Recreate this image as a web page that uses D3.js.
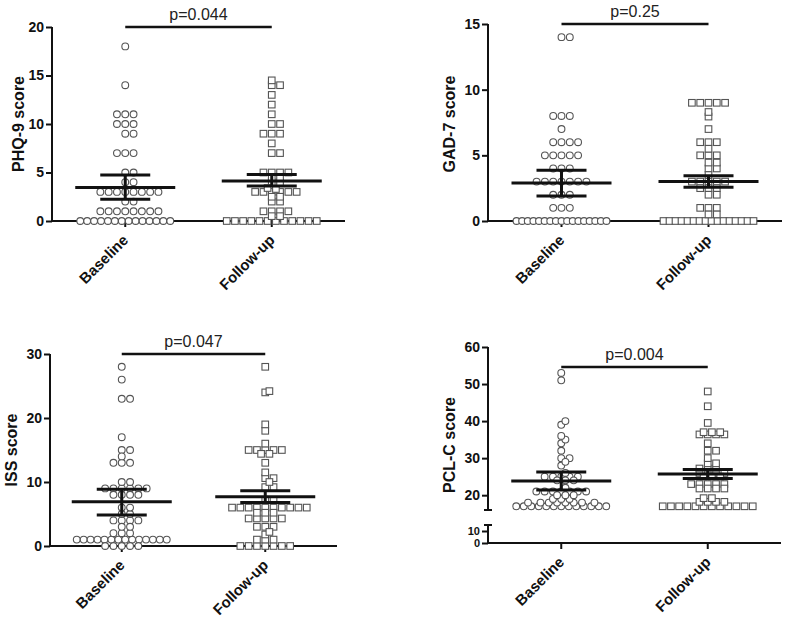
<!DOCTYPE html>
<html><head><meta charset="utf-8">
<script src="https://cdn.jsdelivr.net/npm/d3@7"></script>
<style>body{margin:0;background:#fff}svg{display:block}</style>
</head><body><svg id="c" width="789" height="618"></svg>
<script>
// ---------- DATA ----------
const categories = ["Baseline", "Follow-up"];

const phqBaseline = [18, 14, 11,11,11, 10,10,10, 9,9, 7,7,7, 5,5, 4,4, 3,3,3,3,3,3,3,3, 2,2,
  1,1,1,1,1,1,1,1, 0,0,0,0,0,0,0,0,0,0,0,0,0,0];
const phqFollowup = [14.5, 14,14, 13, 12, 11, 10,10, 9,9,9, 8, 7,7, 5,5,5,5, 4.5,4.5, 4,4, 3.4, 3.3,
  3,3,3,3,3,3, 2.5,2.5, 2,2, 1,1,1,1, 0.5,0.5, 0,0,0,0,0,0,0,0,0,0,0,0];
const phqMean = [3.45, 4.13], phqLow = [2.25, 3.6], phqHigh = [4.75, 4.8];
const phqTicks = [0, 5, 10, 15, 20];

const gadBaseline = [14,14, 8,8,8, 7, 6,6,6,6, 5,5,5,5,5, 4,4,4, 3,3,3,3,3,3,3, 2,2,2, 1,1,1,
  0,0,0,0,0,0,0,0,0,0,0,0,0,0,0,0,0];
const gadFollowup = [9,9,9,9,9, 8.3, 7.95, 7, 6,6,6, 5.5, 5,5,5, 4.45,4.45, 4,4, 3.5, 3,3,3,3,3,
  2.5,2.5,2.5, 2,2, 1,1,1, 0.5,0.5, 0,0,0,0,0,0,0,0,0,0,0,0,0,0,0,0];
const gadMean = [2.9, 3.0], gadLow = [1.9, 2.57], gadHigh = [3.86, 3.45];
const gadTicks = [0, 5, 10, 15];

const issBaseline = [28, 26, 23,23, 17, 15,15, 14, 13,13,13, 10,10, 9,9,9,9,9,9, 8,8,8,8, 6,6, 5,5,
  4,4,4,4, 3,3, 2,2,2, 1,1,1,1,1,1,1,1,1,1,1,1,1,1, 0,0,0,0,0];
const issFollowup = [28, 24.2, 24, 19, 18, 16, 15,15,15,15,15, 14.4,14.4, 13, 11.5, 10.6,10.6, 10,
  9.2,9.2, 7.2,7.2, 6,6,6,6,6,6,6,6,6,6, 5.2,5.2,5.2, 4.3,4.3,4.3,4.3,4.3, 3,3,3, 2.2, 1.8, 1,1,1,
  0,0,0,0,0,0,0];
const issMean = [6.9, 7.7], issLow = [4.84, 6.8], issHigh = [8.86, 8.65];
const issTicks = [0, 10, 20, 30];

const pclBaseline = [53, 51, 40, 39, 36, 35, 34, 32, 30,30, 29, 28, 26, 25,25,25,25,25, 24,24,24, 22,
  21,21,21,21,21,21,21, 20,20,20, 19,19,19, 18,18,18,18,18,18,18,18,
  17,17,17,17,17,17,17,17,17,17,17,17,17];
const pclFollowup = [48, 44, 39.5, 37,37,37, 36.4,36.4,36.4,36.4, 34, 32,32, 30, 28.6,28.6,
  27.2,27.2,27.2, 26,26,26,26, 25,25,25, 23,23,23,23,23, 21.8,21.8,21.8,21.8, 19.2,19.2,
  18.2,18.2,18.2,18.2, 17,17,17,17,17,17,17,17,17,17,17,17];
const pclMean = [23.85, 25.7], pclLow = [21.4, 24.5], pclHigh = [26.25, 26.9];
const pclTicksUpper = [20, 30, 40, 50, 60];
const pclTicksLower = [0, 10];

const pLabels = ["p=0.044", "p=0.25", "p=0.047", "p=0.004"];
const pLevels = [20, 15, 30, 54.6];

// ---------- DRAWING ----------
const svg = d3.select("#c");
const FONT = "'Liberation Sans', Arial, Helvetica, sans-serif";

function swarm(values, y, cx) {
  const d = 8.3, maxHalf = 45, thrSame = 7, thrOther = 4.0;
  const groups = d3.groups(values, v => v).sort((a, b) => b[1].length - a[1].length || a[0] - b[0]);
  const placed = [];
  for (const [v, arr] of groups) {
    const n = arr.length, py = y(v);
    if ((n - 1) * d > 2 * maxHalf) {
      const sp = 2 * maxHalf / (n - 1);
      for (let i = 0; i < n; i++) placed.push({ x: cx - maxHalf + i * sp, y: py });
      continue;
    }
    const cands = [];
    for (let k = -14; k <= 14; k++) {
      const off = k * d / 2;
      const match = (n % 2 === 1) ? (k % 2 === 0) : (Math.abs(k) % 2 === 1);
      cands.push({ off, key: Math.abs(off) + (match ? 0 : 0.01) + (off < 0 ? 0.001 : 0) });
    }
    cands.sort((a, b) => a.key - b.key);
    const chosen = [];
    for (const c of cands) {
      if (chosen.length === n) break;
      const x = cx + c.off;
      const hitOther = placed.some(p => Math.hypot(p.x - x, p.y - py) < thrOther);
      const hitSame = chosen.some(p => Math.abs(p.x - x) < thrSame);
      if (!hitOther && !hitSame) chosen.push({ x, y: py });
    }
    let i = 0;
    while (chosen.length < n) { chosen.push({ x: cx + cands[i].off, y: py }); i++; }
    placed.push(...chosen);
  }
  return placed;
}

function panel(cfg) {
  const g = svg.append("g");
  const x = d3.scalePoint().domain(categories).range([cfg.left, cfg.right]).padding(0.5);
  const y = cfg.y;
  const bottom = cfg.axisY;

  // axis title
  g.append("text").attr("transform", `translate(${cfg.titleX},${cfg.titleY}) rotate(-90)`)
    .attr("text-anchor", "middle").attr("dominant-baseline", "central")
    .style("font", `bold 16px ${FONT}`).attr("fill", "#111").text(cfg.title);

  // y axis segments
  cfg.segments.forEach(seg => {
    const ax = d3.axisLeft(seg.scale).tickValues(seg.ticks).tickSize(6).tickPadding(2).tickSizeOuter(0);
    const ag = g.append("g").attr("transform", `translate(${cfg.left},0)`).call(ax);
    ag.select(".domain").remove();
    ag.selectAll(".tick line").attr("stroke", "#111").attr("stroke-width", 2);
    ag.selectAll(".tick text").style("font", `bold ${seg.fontSize || 14}px ${FONT}`).attr("fill", "#111");
    g.append("line").attr("x1", cfg.left).attr("x2", cfg.left)
      .attr("y1", seg.scale(seg.domainTop)).attr("y2", seg.scale(seg.domainBottom))
      .attr("stroke", "#111").attr("stroke-width", 2);
    if (seg.capBottom) g.append("line").attr("x1", cfg.left - 4).attr("x2", cfg.left + 4)
      .attr("y1", seg.scale(seg.domainBottom)).attr("y2", seg.scale(seg.domainBottom))
      .attr("stroke", "#111").attr("stroke-width", 2);
    if (seg.capTop) g.append("line").attr("x1", cfg.left - 4).attr("x2", cfg.left + 4)
      .attr("y1", seg.scale(seg.domainTop)).attr("y2", seg.scale(seg.domainTop))
      .attr("stroke", "#111").attr("stroke-width", 2);
  });

  // x axis
  g.append("line").attr("x1", cfg.left - 1).attr("x2", cfg.right).attr("y1", bottom).attr("y2", bottom)
    .attr("stroke", "#111").attr("stroke-width", 2);
  categories.forEach(c => {
    g.append("line").attr("x1", x(c)).attr("x2", x(c)).attr("y1", bottom).attr("y2", bottom + 6)
      .attr("stroke", "#111").attr("stroke-width", 2);
    g.append("text").attr("transform", `translate(${x(c) + 4},${bottom + 20}) rotate(-45)`)
      .attr("text-anchor", "end").style("font", `bold 15px ${FONT}`).attr("fill", "#111").text(c);
  });

  // points
  cfg.series.forEach((vals, i) => {
    const pts = swarm(vals, y, x(categories[i]));
    if (i === 0) {
      g.append("g").selectAll("circle").data(pts).join("circle")
        .attr("cx", p => p.x).attr("cy", p => p.y).attr("r", 3.4)
        .attr("fill", "#fff").attr("stroke", "#555").attr("stroke-width", 1.1);
    } else {
      g.append("g").selectAll("rect").data(pts).join("rect")
        .attr("x", p => p.x - 3.3).attr("y", p => p.y - 3.3).attr("width", 6.6).attr("height", 6.6)
        .attr("fill", "#fff").attr("stroke", "#555").attr("stroke-width", 1.1);
    }
  });

  // mean & CI
  categories.forEach((c, i) => {
    const cx = x(c);
    const ln = (x1, x2, y1, y2) => g.append("line").attr("x1", x1).attr("x2", x2).attr("y1", y1).attr("y2", y2)
      .attr("stroke", "#111").attr("stroke-width", 3);
    ln(cx, cx, y(cfg.low[i]), y(cfg.high[i]));
    ln(cx - 25, cx + 25, y(cfg.low[i]), y(cfg.low[i]));
    ln(cx - 25, cx + 25, y(cfg.high[i]), y(cfg.high[i]));
    ln(cx - 50, cx + 50, y(cfg.mean[i]), y(cfg.mean[i]));
  });

  // p value bar
  const py = y(cfg.pLevel);
  g.append("line").attr("x1", x(categories[0])).attr("x2", x(categories[1])).attr("y1", py).attr("y2", py)
    .attr("stroke", "#111").attr("stroke-width", 2.5);
  g.append("text").attr("x", (x(categories[0]) + x(categories[1])) / 2).attr("y", py - 7)
    .attr("text-anchor", "middle").style("font", `16px ${FONT}`).attr("fill", "#222").text(cfg.pLabel);
}

// Panel 1: PHQ-9
const y1 = d3.scaleLinear().domain([0, 20]).range([221, 27]);
panel({ left: 52, right: 345, axisY: 221, y: y1, title: "PHQ-9 score", titleX: 18, titleY: 124,
  segments: [{ scale: y1, ticks: phqTicks, domainTop: 20, domainBottom: 0 }],
  series: [phqBaseline, phqFollowup], mean: phqMean, low: phqLow, high: phqHigh,
  pLabel: pLabels[0], pLevel: pLevels[0] });

// Panel 2: GAD-7
const y2 = d3.scaleLinear().domain([0, 15]).range([221, 24]);
panel({ left: 488, right: 782, axisY: 221, y: y2, title: "GAD-7 score", titleX: 449, titleY: 124,
  segments: [{ scale: y2, ticks: gadTicks, domainTop: 15, domainBottom: 0 }],
  series: [gadBaseline, gadFollowup], mean: gadMean, low: gadLow, high: gadHigh,
  pLabel: pLabels[1], pLevel: pLevels[1] });

// Panel 3: ISS
const y3 = d3.scaleLinear().domain([0, 30]).range([546, 354]);
panel({ left: 50, right: 337, axisY: 546, y: y3, title: "ISS score", titleX: 11, titleY: 450,
  segments: [{ scale: y3, ticks: issTicks, domainTop: 30, domainBottom: 0 }],
  series: [issBaseline, issFollowup], mean: issMean, low: issLow, high: issHigh,
  pLabel: pLabels[2], pLevel: pLevels[2] });

// Panel 4: PCL-C (broken axis)
const y4 = d3.scaleLinear().domain([16, 60]).range([510, 347]);
const y4b = d3.scaleLinear().domain([0, 15]).range([543, 525]);
panel({ left: 488, right: 781, axisY: 543, y: y4, title: "PCL-C score", titleX: 449, titleY: 445,
  segments: [
    { scale: y4, ticks: pclTicksUpper, domainTop: 60, domainBottom: 16, capBottom: true },
    { scale: y4b, ticks: pclTicksLower, domainTop: 15, domainBottom: 0, capTop: true, fontSize: 11 }],
  series: [pclBaseline, pclFollowup], mean: pclMean, low: pclLow, high: pclHigh,
  pLabel: pLabels[3], pLevel: pLevels[3] });
</script>
</body></html>
